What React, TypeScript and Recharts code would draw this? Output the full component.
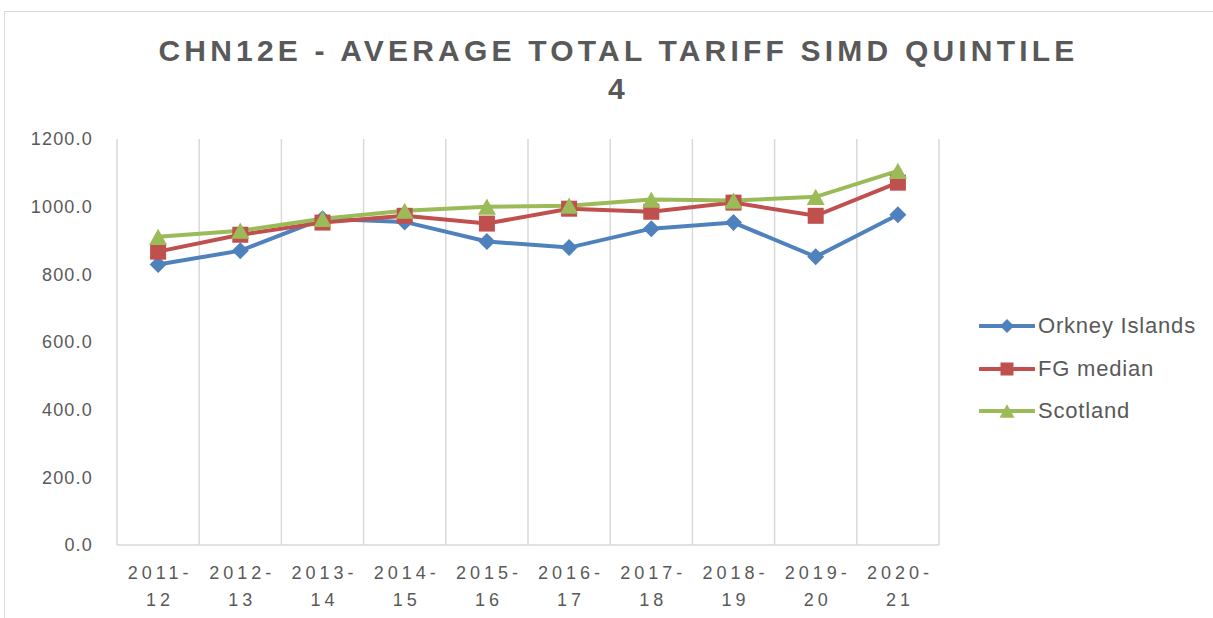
import { ComposedChart, Line, ReferenceLine, XAxis, YAxis } from "recharts";

const years = ["2011-12", "2012-13", "2013-14", "2014-15", "2015-16", "2016-17", "2017-18", "2018-19", "2019-20", "2020-21"];
const orkney = [829, 870, 964, 955, 897, 879, 935, 953, 852, 976];
const fgMedian = [867, 917, 953, 973, 950, 994, 985, 1012, 973, 1071];
const scotland = [911, 929, 964, 988, 1000, 1003, 1021, 1018, 1029, 1106];
const yTicks = [0, 200, 400, 600, 800, 1000, 1200];

const BLUE = "#4f81bd";
const RED = "#c0504d";
const GREEN = "#9bbb59";
const TEXT = "#595959";
const GRID = "#d9d9d9";
const FONT = "'Liberation Sans', Arial, sans-serif";

// x runs over category slots: point i sits in the middle of slot [i, i+1]
const data = years.map((year, i) => ({
  x: i + 0.5,
  year,
  orkney: orkney[i],
  fg: fgMedian[i],
  scotland: scotland[i],
}));
const centerTicks = data.map((d) => d.x);
const boundaryTicks = [...years.map((_, i) => i), years.length];

function Diamond({ cx, cy, color, r = 8.5 }: { cx: number; cy: number; color: string; r?: number }) {
  return <polygon points={`${cx},${cy - r} ${cx + r},${cy} ${cx},${cy + r} ${cx - r},${cy}`} fill={color} />;
}

function Square({ cx, cy, color, s = 16 }: { cx: number; cy: number; color: string; s?: number }) {
  return <rect x={cx - s / 2} y={cy - s / 2} width={s} height={s} fill={color} />;
}

function Triangle({ cx, cy, color, w = 18 }: { cx: number; cy: number; color: string; w?: number }) {
  const h = w * 0.9;
  return <polygon points={`${cx},${cy - h / 2} ${cx + w / 2},${cy + h / 2} ${cx - w / 2},${cy + h / 2}`} fill={color} />;
}

function YearTick({ x, y, payload }: any) {
  const label = years[Math.floor(payload.value)] ?? "";
  const [a, b] = label.split("-");
  const style = { fontFamily: FONT, fontSize: 18, fill: TEXT, letterSpacing: 4 };
  return (
    <g transform={`translate(${x + 2},${y})`}>
      <text textAnchor="middle" y={26} style={style}>
        {a}-
      </text>
      <text textAnchor="middle" y={53} style={style}>
        {b}
      </text>
    </g>
  );
}

const legendItems = [
  { name: "Orkney Islands", color: BLUE, kind: "diamond" },
  { name: "FG median", color: RED, kind: "square" },
  { name: "Scotland", color: GREEN, kind: "triangle" },
];

function ChartLegend() {
  return (
    <div style={{ position: "absolute", left: 979, top: 305 }}>
      {legendItems.map((it) => (
        <div key={it.name} style={{ display: "flex", alignItems: "center", height: 42.5 }}>
          <svg width={56} height={24} style={{ display: "block" }}>
            <line x1={1} y1={12} x2={55} y2={12} stroke={it.color} strokeWidth={4} strokeLinecap="round" />
            {it.kind === "diamond" && <Diamond cx={28} cy={12} color={it.color} r={7} />}
            {it.kind === "square" && <Square cx={28} cy={12} color={it.color} s={13} />}
            {it.kind === "triangle" && <Triangle cx={28} cy={12} color={it.color} w={15} />}
          </svg>
          <span style={{ fontFamily: FONT, fontSize: 22, color: TEXT, letterSpacing: 0.8, marginLeft: 3 }}>{it.name}</span>
        </div>
      ))}
    </div>
  );
}

export default function App() {
  return (
    <div style={{ position: "absolute", left: 0, top: 0, width: 1213, height: 618, background: "#fff", overflow: "hidden" }}>
      <div
        style={{
          position: "absolute",
          left: 4,
          top: 11,
          width: 1230,
          height: 640,
          border: `1px solid ${GRID}`,
        }}
      />
      <div
        style={{
          position: "absolute",
          left: 0,
          top: 32,
          width: 1237,
          textAlign: "center",
          fontFamily: FONT,
          fontWeight: "bold",
          fontSize: 30,
          lineHeight: "38px",
          letterSpacing: 4.2,
          color: TEXT,
        }}
      >
        CHN12E - AVERAGE TOTAL TARIFF SIMD QUINTILE
        <br />4
      </div>
      <div style={{ position: "absolute", left: 0, top: 0 }}>
        <ComposedChart width={1213} height={618} data={data} margin={{ top: 139, right: 274, bottom: 13, left: 0 }}>
          <XAxis
            dataKey="x"
            type="number"
            domain={[0, years.length]}
            ticks={centerTicks}
            height={60}
            axisLine={{ stroke: GRID, strokeWidth: 1.5 }}
            tickLine={false}
            interval={0}
            tick={<YearTick />}
          />
          <YAxis
            width={117}
            domain={[0, 1200]}
            ticks={yTicks}
            axisLine={false}
            tickLine={false}
            tickMargin={18}
            tickFormatter={(v: number) => v.toFixed(1)}
            tick={{ fontFamily: FONT, fontSize: 18, fill: TEXT, letterSpacing: 1.2 }}
          />
          {boundaryTicks.map((t) => (
            <ReferenceLine key={`b${t}`} x={t} stroke={GRID} strokeWidth={1.5} />
          ))}
          <Line
            dataKey="orkney"
            stroke={BLUE}
            strokeWidth={4}
            isAnimationActive={false}
            activeDot={false}
            dot={(p: any) => <Diamond key={`o${p.index}`} cx={p.cx} cy={p.cy} color={BLUE} />}
          />
          <Line
            dataKey="fg"
            stroke={RED}
            strokeWidth={4}
            isAnimationActive={false}
            activeDot={false}
            dot={(p: any) => <Square key={`f${p.index}`} cx={p.cx} cy={p.cy} color={RED} />}
          />
          <Line
            dataKey="scotland"
            stroke={GREEN}
            strokeWidth={4}
            isAnimationActive={false}
            activeDot={false}
            dot={(p: any) => <Triangle key={`s${p.index}`} cx={p.cx} cy={p.cy} color={GREEN} />}
          />
        </ComposedChart>
      </div>
      <ChartLegend />
    </div>
  );
}
